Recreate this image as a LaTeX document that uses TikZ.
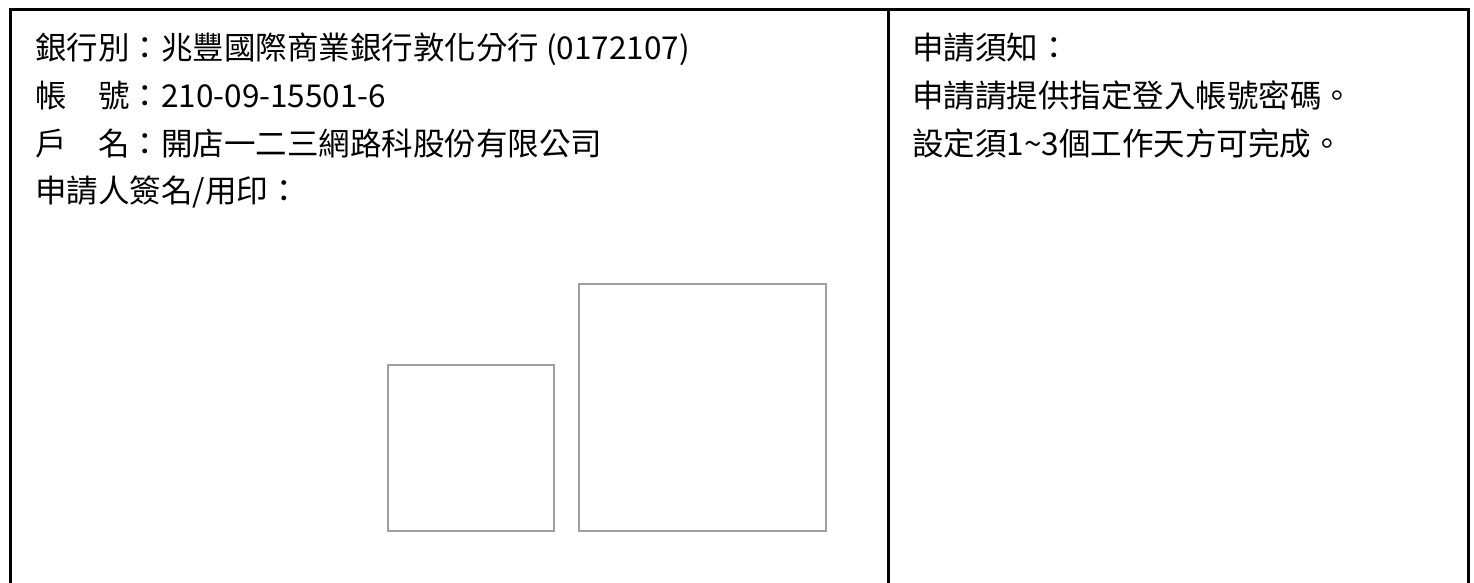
\documentclass[tikz,border=0pt]{standalone}
\usepackage{fontspec}
\setmainfont{Noto Sans CJK TC}
\definecolor{boxgray}{HTML}{A0A0A0}
\begin{document}
\begin{tikzpicture}[x=1pt,y=-1pt,
  txt/.style={anchor=base west,inner sep=0pt,font=\fontsize{31.5}{38}\selectfont},
  frame/.style={line width=3pt,draw=black},
  slot/.style={line width=2pt,draw=boxgray}]
\useasboundingbox (0,0) rectangle (1474,583);
% outer frame (open at bottom) and divider
\draw[frame] (10.5,584) -- (10.5,10) -- (1468,10) -- (1468,584);
\draw[frame] (888,10) -- (888,584);
% left column
\node[txt] (bank)  at (35,60)  {銀行別：兆豐國際商業銀行敦化分行 (0172107)};
\node[txt] (acct)  at (35,108) {帳　號：210-09-15501-6};
\node[txt] (name)  at (35,155) {戶　名：開店一二三網路科股份有限公司};
\node[txt] (sign)  at (35,202) {申請人簽名/用印：};
% stamp boxes
\draw[slot] (387.5,364.5) rectangle (554,530.5);
\draw[slot] (579,283.5) rectangle (826,530.5);
% right column
\node[txt] (notice) at (912,60)  {申請須知：};
\node[txt] (note1)  at (912,108) {申請請提供指定登入帳號密碼。};
\node[txt] (note2)  at (912,155) {設定須1\textasciitilde3個工作天方可完成。};
\end{tikzpicture}
\end{document}
